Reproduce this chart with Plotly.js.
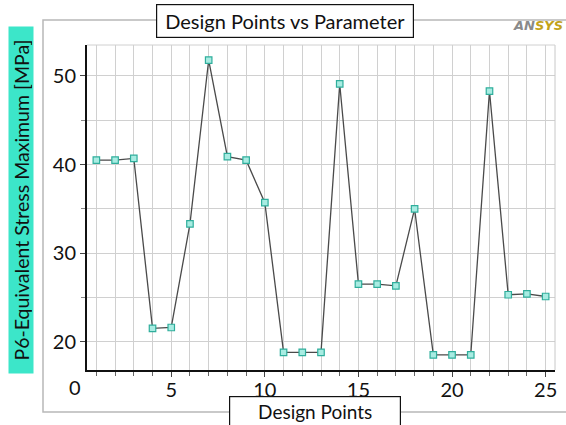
<!DOCTYPE html>
<html>
<head>
<meta charset="utf-8">
<script src="https://cdn.plot.ly/plotly-3.0.1.min.js"></script>
<style>html,body{margin:0;padding:0;background:#fff;}#chart{width:566px;height:425px;}</style>
</head>
<body>
<div id="chart"></div>
<script>
const designPoints = [1,2,3,4,5,6,7,8,9,10,11,12,13,14,15,16,17,18,19,20,21,22,23,24,25];
const stressValues = [40.5,40.5,40.7,21.5,21.6,33.3,51.8,40.9,40.5,35.7,18.8,18.8,18.8,49.1,26.5,26.5,26.3,35.0,18.5,18.5,18.5,48.3,25.3,25.4,25.1];
const xTickVals = [5,10,15,20,25];
const yTickVals = [20,30,40,50];
const chartTitle = "Design Points vs Parameter";
const xTitle = "Design Points";
const yTitle = "P6-Equivalent Stress Maximum [MPa]";

const FONT = "Lato, 'Open Sans', sans-serif";
const W = 566, H = 425, L = 87, R = 11, T = 45, B = 55;
const pw = W - L - R, ph = H - T - B;
const px = v => (v - L) / pw;
const py = v => (H - B - v) / ph;

const trace = {
  x: designPoints, y: stressValues, type: 'scatter', mode: 'lines+markers',
  line: {color: '#4a4a4a', width: 1.3},
  marker: {symbol: 'square', size: 6.5, color: '#a8ece2', line: {color: '#2fae9c', width: 1.2}},
  hoverinfo: 'none'
};

const layout = {
  width: W, height: H,
  margin: {l: L, r: R, t: T, b: B, pad: 0},
  paper_bgcolor: '#fff', plot_bgcolor: '#fff',
  showlegend: false,
  font: {family: FONT, color: '#111'},
  xaxis: {
    range: [0.5, 25.5], tickvals: xTickVals, ticks: 'outside', ticklen: 5, tickcolor: '#444',
    ticklabelstandoff: -4,
    showgrid: true, gridcolor: '#d0d0d0', gridwidth: 1,
    minor: {dtick: 1, tick0: 0, showgrid: true, gridcolor: '#d0d0d0', ticks: 'outside', ticklen: 4, tickcolor: '#666'},
    showline: true, linecolor: '#111', linewidth: 2, zeroline: false,
    tickfont: {size: 20, family: FONT, color: '#111'}, fixedrange: true
  },
  yaxis: {
    range: [16.8, 53.5], tickvals: yTickVals, ticks: 'outside', ticklen: 5, tickcolor: '#444',
    showgrid: true, gridcolor: '#d0d0d0', gridwidth: 1,
    minor: {dtick: 5, tick0: 0, showgrid: true, gridcolor: '#d0d0d0', ticks: 'outside', ticklen: 4, tickcolor: '#888'},
    showline: true, linecolor: '#111', linewidth: 2, zeroline: false,
    tickfont: {size: 20, family: FONT, color: '#111'}, fixedrange: true
  },
  shapes: [
    {type: 'rect', xref: 'paper', yref: 'paper', x0: px(43), x1: px(572), y0: py(412), y1: py(20),
     line: {color: '#b8b8b8', width: 1.5}, layer: 'below'},
    {type: 'line', xref: 'paper', yref: 'paper', x0: 1, x1: 1, y0: 0, y1: 1, line: {color: '#c8c8c8', width: 1}},
    {type: 'line', xref: 'paper', yref: 'paper', x0: 0, x1: 1, y0: 1, y1: 1, line: {color: '#d0d0d0', width: 1}}
  ],
  annotations: [
    {text: chartTitle, xref: 'paper', yref: 'paper', x: px(285), y: py(21), xanchor: 'center', yanchor: 'middle',
     showarrow: false, font: {size: 20, family: FONT, color: '#111'}, bgcolor: '#fff', bordercolor: '#111', borderwidth: 1.2,
     width: 254, height: 30},
    {text: xTitle, xref: 'paper', yref: 'paper', x: px(315), y: py(411.5), xanchor: 'center', yanchor: 'middle',
     showarrow: false, font: {size: 19, family: FONT, color: '#111'}, bgcolor: '#fff', bordercolor: '#111', borderwidth: 1.2,
     width: 168, height: 27},
    {text: yTitle, xref: 'paper', yref: 'paper', x: px(21), y: py(200), xanchor: 'center', yanchor: 'middle',
     textangle: -90, showarrow: false, font: {size: 19.5, family: FONT, color: '#111'}, bgcolor: '#3ce6c9',
     width: 344, height: 22},
    {text: '0', xref: 'paper', yref: 'paper', x: px(75), y: py(387), xanchor: 'center', yanchor: 'middle',
     showarrow: false, font: {size: 20, family: FONT, color: '#111'}},
    {text: "<i><b><span style='color:#8a8a8a'>AN</span><span style='color:#c2a21a'>SYS</span></b></i>",
     xref: 'paper', yref: 'paper', x: px(538), y: py(25), xanchor: 'center', yanchor: 'middle',
     showarrow: false, font: {size: 13, family: "'DejaVu Sans', sans-serif"}}
  ]
};

Plotly.newPlot('chart', [trace], layout, {staticPlot: true, displayModeBar: false});
</script>
</body>
</html>
